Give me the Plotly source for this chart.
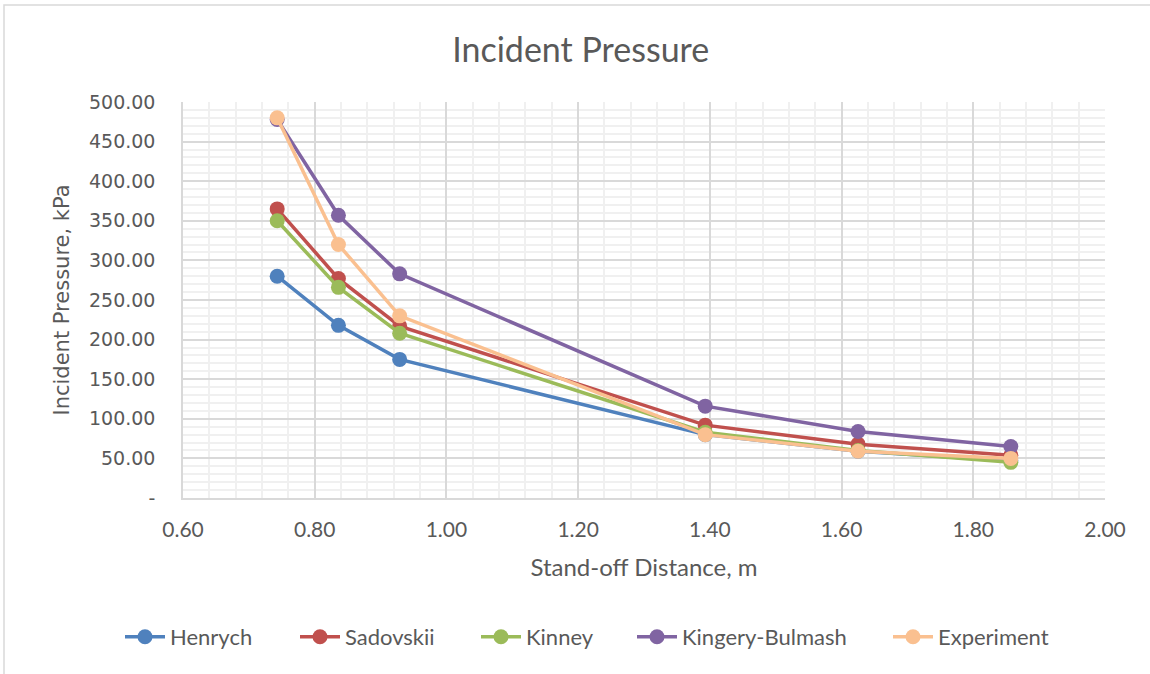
import plotly.graph_objects as go

distance = [0.743, 0.836, 0.929, 1.393, 1.625, 1.857]
henrych = [280, 218, 175, 80, 59, 47]
sadovskii = [365, 277, 217, 92, 68, 54]
kinney = [350, 266, 208, 83, 60, 45]
kingery_bulmash = [478, 357, 283, 116, 84, 65]
experiment = [480, 320, 230, 80, 59, 50]

series_names = ["Henrych", "Sadovskii", "Kinney", "Kingery-Bulmash", "Experiment"]
series_values = [henrych, sadovskii, kinney, kingery_bulmash, experiment]
series_colors = ["#4F81BD", "#C0504D", "#9BBB59", "#8064A2", "#FAC090"]
legend_left_px = [120, 295, 476, 632, 888]

y_tickvals = [0, 50, 100, 150, 200, 250, 300, 350, 400, 450, 500]
y_ticktext = ["-", "50.00", "100.00", "150.00", "200.00", "250.00", "300.00",
              "350.00", "400.00", "450.00", "500.00"]
x_tickvals = [0.6, 0.8, 1.0, 1.2, 1.4, 1.6, 1.8, 2.0]
x_ticktext = ["0.60", "0.80", "1.00", "1.20", "1.40", "1.60", "1.80", "2.00"]

TXT = "#595959"
FONT = "Lato"
W, H = 1150, 674

fig = go.Figure()
legend_layouts = {}
for i, (name, vals, col) in enumerate(zip(series_names, series_values, series_colors)):
    lg = "legend" if i == 0 else f"legend{i + 1}"
    fig.add_trace(go.Scatter(
        x=distance, y=vals, name=name, mode="lines+markers",
        line=dict(color=col, width=3.5),
        marker=dict(color=col, size=15),
        legend=lg,
    ))
    legend_layouts[lg] = dict(
        orientation="h", xref="container", yref="container",
        x=legend_left_px[i] / W, xanchor="left", y=0.055, yanchor="middle",
        font=dict(family=FONT, size=22, color=TXT),
        bgcolor="rgba(0,0,0,0)", itemwidth=40,
    )

fig.update_layout(
    width=W, height=H,
    margin=dict(l=183, r=45, t=102, b=176),
    paper_bgcolor="white", plot_bgcolor="white",
    font=dict(family=FONT, color=TXT, size=18),
    title=dict(text="Incident Pressure", x=0.505, xanchor="center",
               y=0.925, yanchor="middle",
               font=dict(family=FONT, size=34, color=TXT)),
    showlegend=True,
    xaxis=dict(range=[0.6, 2.0], tickvals=x_tickvals, ticktext=x_ticktext,
               showgrid=True, gridcolor="#D9D9D9", gridwidth=1.5,
               minor=dict(dtick=0.04, showgrid=True, gridcolor="#F0F0F0", gridwidth=1.5),
               zeroline=False, showline=True, linecolor="#D9D9D9", linewidth=1.5,
               mirror=False, tickfont=dict(family=FONT, size=21, color=TXT),
               ticklabelstandoff=12,
               title=dict(text="Stand-off Distance, m", standoff=19,
                          font=dict(family=FONT, size=24, color=TXT))),
    yaxis=dict(range=[0, 500], tickvals=y_tickvals, ticktext=y_ticktext,
               showgrid=True, gridcolor="#D9D9D9", gridwidth=1.5,
               minor=dict(dtick=10, showgrid=True, gridcolor="#F0F0F0", gridwidth=1.5),
               zeroline=False, showline=True, linecolor="#D9D9D9", linewidth=1.5,
               tickfont=dict(family="DejaVu Sans", size=19, color=TXT),
               ticklabelstandoff=22,
               title=dict(text="Incident Pressure, kPa", standoff=14,
                          font=dict(family="DejaVu Sans", size=21, color=TXT))),
    **legend_layouts,
)

# outer chart border
fig.add_shape(type="rect", xref="paper", yref="paper",
              x0=(4 - 183) / 922, x1=(1152 - 183) / 922,
              y0=(498 - 676) / 396, y1=(498 - 5) / 396,
              line=dict(color="#D9D9D9", width=1.5), fillcolor="rgba(0,0,0,0)",
              layer="below")

fig.write_html("out.html")
